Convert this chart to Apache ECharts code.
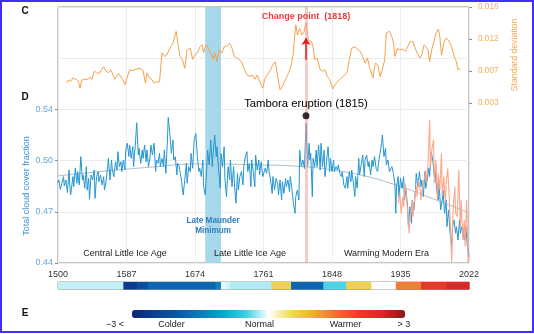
<!DOCTYPE html>
<html><head><meta charset="utf-8">
<script src="https://cdn.jsdelivr.net/npm/echarts@6/dist/echarts.min.js"></script>
<style>html,body{margin:0;padding:0;background:#fff}#c{width:534px;height:334px}</style>
</head><body><div id="c"></div>
<script>
const FONT = '"Liberation Sans", Arial, sans-serif';
// axis ticks
const xTickYears = [1500, 1587, 1674, 1761, 1848, 1935, 2022];
const cloudTicks = [0.44, 0.472, 0.504, 0.536];
const sdTicks = [0.003, 0.0073333, 0.0116667, 0.016];

// D: total cloud cover fraction (reconstruction)
const cloudYears = [1500,1501,1503,1505,1507,1508,1510,1512,1514,1515,1516,1519,1520,1522,1524,1525,1527,1529,1531,1532,1534,1536,1537,1539,1540,1542,1544,1546,1547,1549,1551,1552,1554,1556,1558,1559,1561,1563,1564,1566,1568,1569,1571,1573,1575,1576,1578,1580,1581,1583,1585,1586,1588,1590,1591,1593,1595,1596,1598,1600,1602,1603,1605,1607,1608,1610,1612,1613,1615,1617,1618,1620,1622,1624,1625,1627,1629,1630,1632,1634,1635,1637,1639,1640,1642,1644,1646,1647,1649,1651,1652,1654,1656,1657,1659,1661,1663,1664,1666,1668,1669,1671,1673,1675,1677,1679,1680,1682,1684,1685,1687,1689,1690,1692,1694,1696,1697,1699,1701,1702,1704,1706,1707,1709,1711,1712,1714,1716,1718,1719,1721,1723,1724,1726,1728,1729,1731,1733,1735,1736,1738,1740,1741,1743,1745,1746,1748,1750,1751,1753,1755,1756,1758,1760,1762,1763,1765,1767,1768,1770,1772,1773,1775,1777,1779,1780,1782,1784,1785,1787,1789,1790,1792,1794,1795,1797,1799,1801,1802,1804,1806,1807,1809,1811,1813,1815,1817,1819,1820,1821,1823,1824,1826,1828,1829,1831,1833,1834,1836,1838,1839,1841,1843,1845,1846,1848,1850,1851,1853,1855,1856,1858,1860,1861,1863,1865,1867,1868,1870,1872,1873,1875,1877,1878,1880,1882,1883,1885,1887,1889,1890,1892,1894,1895,1897,1899,1900,1902,1904,1906,1907,1909,1911,1912,1914,1916,1917,1919,1921,1922,1924,1926,1928,1929,1930,1932,1933,1935,1937,1939,1940,1942,1944,1945,1947,1949,1950,1952,1954,1955,1957,1959,1961,1962,1964,1966,1967,1969,1971,1972,1974,1976,1978,1979,1981,1983,1984,1986,1988,1989,1991,1993,1994,1996,1998,2000,2001,2003,2005,2006,2008,2010,2011,2013,2015,2016,2018,2020,2022];
const cloudValues = [0.4900,0.4919,0.4860,0.4867,0.4940,0.4881,0.4919,0.4840,0.4981,0.4888,0.4825,0.4940,0.4877,0.4992,0.4898,0.4971,0.4888,0.5065,0.4919,0.4950,0.4867,0.5002,0.4856,0.4929,0.4798,0.4950,0.4919,0.4981,0.4804,0.4940,0.4971,0.4908,0.4950,0.4888,0.4940,0.4856,0.4908,0.5002,0.5054,0.4919,0.5044,0.4981,0.4940,0.5033,0.4981,0.5096,0.5002,0.5033,0.4971,0.5044,0.4981,0.5106,0.5148,0.5065,0.5137,0.5054,0.5127,0.5002,0.5127,0.5277,0.5075,0.5117,0.5023,0.5106,0.5054,0.5137,0.5033,0.5106,0.5002,0.5065,0.5137,0.5075,0.5148,0.4971,0.5044,0.5023,0.5085,0.5002,0.5054,0.5002,0.5106,0.4960,0.5169,0.5310,0.5210,0.5085,0.5169,0.5044,0.5065,0.4950,0.5023,0.5002,0.4940,0.4908,0.4825,0.4919,0.5023,0.4898,0.5002,0.4971,0.5085,0.4992,0.5169,0.5210,0.5065,0.4971,0.4992,0.4940,0.5044,0.4877,0.4825,0.5002,0.5106,0.5013,0.5169,0.5002,0.5085,0.5200,0.5065,0.5127,0.4981,0.4867,0.5085,0.5002,0.5127,0.4929,0.4815,0.5002,0.4919,0.5044,0.4877,0.5002,0.4898,0.4773,0.4960,0.4856,0.4940,0.4971,0.4888,0.5002,0.5065,0.5096,0.4971,0.5023,0.4877,0.5044,0.4971,0.4877,0.5075,0.4981,0.5044,0.4950,0.5033,0.4940,0.4971,0.4992,0.4960,0.5044,0.4971,0.4919,0.4835,0.4940,0.4856,0.4929,0.4898,0.4825,0.4919,0.4794,0.4908,0.4835,0.4929,0.4877,0.4919,0.4846,0.4940,0.4867,0.4773,0.4710,0.4815,0.4856,0.4794,0.5106,0.5002,0.5044,0.4990,0.5273,0.5002,0.5148,0.5044,0.5085,0.4815,0.5054,0.5002,0.5106,0.5002,0.5137,0.4981,0.5148,0.5002,0.5106,0.4940,0.5033,0.5127,0.4971,0.5054,0.4971,0.5044,0.4971,0.5002,0.4981,0.5013,0.4960,0.4940,0.4971,0.4888,0.4867,0.4940,0.4867,0.4971,0.4908,0.4981,0.4908,0.4815,0.4940,0.4867,0.5054,0.4950,0.5013,0.5075,0.4940,0.5044,0.5075,0.5002,0.5033,0.4950,0.5044,0.5002,0.5065,0.4992,0.4971,0.5023,0.5085,0.5148,0.5200,0.5065,0.5117,0.5013,0.5044,0.4971,0.4981,0.5002,0.4960,0.4888,0.4710,0.4877,0.4940,0.4815,0.4929,0.4867,0.4940,0.4794,0.4856,0.4752,0.4627,0.4752,0.4648,0.4794,0.4731,0.4856,0.4960,0.4877,0.4971,0.4877,0.4919,0.4815,0.4971,0.4867,0.4919,0.4992,0.4940,0.5096,0.5044,0.4940,0.4971,0.4856,0.4794,0.4898,0.4731,0.4794,0.4856,0.4710,0.4794,0.4627,0.4731,0.4585,0.4502,0.4627,0.4669,0.4585,0.4627,0.4544,0.4669,0.4585,0.4627,0.4585,0.4544,0.4627,0.4502,0.4440];

// D: observed cloud cover (instrumental era)
const obsYears = [1932,1934,1936,1938,1939,1941,1943,1945,1946,1948,1950,1951,1953,1955,1956,1958,1960,1961,1963,1965,1967,1968,1970,1972,1973,1975,1977,1978,1980,1982,1983,1985,1987,1988,1990,1992,1993,1995,1997,2000,2002,2004,2005,2007,2009,2011,2012,2014,2016,2017,2019,2021,2022];
const obsValues = [0.4773,0.4835,0.4710,0.4815,0.4752,0.4898,0.4794,0.4648,0.4585,0.4731,0.4794,0.4690,0.4815,0.4877,0.4815,0.4919,0.4856,0.4794,0.4877,0.4919,0.4981,0.4898,0.5023,0.5294,0.5002,0.5117,0.5169,0.4898,0.5044,0.4794,0.4960,0.4856,0.5085,0.4815,0.4940,0.4773,0.4898,0.4990,0.4800,0.4405,0.4752,0.4877,0.4710,0.4690,0.4981,0.4627,0.4794,0.4544,0.4669,0.4502,0.4794,0.4405,0.4450];

// D: long-term trend
const trendYears = [1500,1561,1625,1673,1758,1812,1849,1890,1933,1975,2022];
const trendValues = [0.4944,0.4975,0.5002,0.5019,0.5013,0.5002,0.4981,0.4944,0.4881,0.4804,0.4714];

// C: running standard deviation
const sdYears = [1511,1513,1516,1519,1523,1526,1528,1530,1534,1538,1541,1543,1546,1549,1551,1553,1555,1558,1561,1564,1567,1570,1572,1574,1577,1579,1582,1585,1587,1591,1594,1596,1600,1604,1608,1611,1613,1616,1619,1622,1625,1629,1632,1635,1638,1640,1643,1646,1650,1653,1655,1658,1661,1664,1668,1671,1674,1677,1680,1683,1685,1688,1691,1693,1697,1699,1702,1705,1708,1711,1714,1718,1721,1724,1727,1730,1733,1736,1740,1744,1747,1750,1753,1757,1760,1763,1766,1769,1773,1776,1779,1782,1785,1789,1793,1796,1799,1801,1802,1804,1807,1810,1812,1815,1818,1822,1824,1826,1829,1833,1836,1839,1842,1845,1849,1852,1855,1858,1862,1867,1870,1873,1877,1881,1884,1887,1890,1893,1896,1900,1903,1906,1909,1912,1915,1917,1921,1924,1926,1928,1931,1934,1938,1941,1944,1947,1951,1953,1956,1960,1962,1965,1967,1970,1972,1975,1978,1980,1983,1985,1987,1990,1993,1996,1999,2002,2004,2006,2008,2011];
const sdValues = [0.0057,0.0061,0.0059,0.0064,0.0062,0.0059,0.0050,0.0061,0.0062,0.0062,0.0065,0.0062,0.0073,0.0071,0.0073,0.0070,0.0075,0.0079,0.0073,0.0071,0.0075,0.0068,0.0062,0.0064,0.0070,0.0068,0.0062,0.0055,0.0057,0.0075,0.0074,0.0076,0.0076,0.0077,0.0074,0.0057,0.0071,0.0064,0.0062,0.0057,0.0058,0.0059,0.0098,0.0093,0.0095,0.0093,0.0106,0.0111,0.0127,0.0106,0.0093,0.0089,0.0077,0.0102,0.0104,0.0089,0.0095,0.0098,0.0106,0.0109,0.0098,0.0109,0.0104,0.0100,0.0089,0.0098,0.0086,0.0102,0.0098,0.0106,0.0107,0.0111,0.0104,0.0093,0.0091,0.0089,0.0086,0.0077,0.0068,0.0066,0.0068,0.0062,0.0068,0.0057,0.0050,0.0064,0.0068,0.0073,0.0082,0.0086,0.0066,0.0048,0.0052,0.0062,0.0071,0.0080,0.0098,0.0125,0.0136,0.0122,0.0131,0.0122,0.0125,0.0138,0.0115,0.0113,0.0106,0.0089,0.0091,0.0075,0.0073,0.0075,0.0066,0.0062,0.0049,0.0055,0.0059,0.0062,0.0066,0.0071,0.0089,0.0104,0.0106,0.0102,0.0100,0.0093,0.0084,0.0091,0.0077,0.0064,0.0084,0.0082,0.0066,0.0075,0.0089,0.0125,0.0127,0.0120,0.0111,0.0093,0.0104,0.0102,0.0103,0.0100,0.0106,0.0113,0.0113,0.0106,0.0098,0.0091,0.0095,0.0109,0.0111,0.0102,0.0086,0.0104,0.0115,0.0125,0.0130,0.0120,0.0095,0.0111,0.0118,0.0115,0.0109,0.0098,0.0091,0.0086,0.0075,0.0077];

// annotations
const tamboraYear = 1815;
const tamboraDotValue = 0.532;
const changePointYear = 1818;
const changeArrowFrom = 0.00884;
const changeArrowTo = 0.0118;
const lmmStart = 1687, lmmEnd = 1707;

// E: temperature anomaly timeline
const eraBarStart = [1500,1583,1600,1614,1700,1707,1712,1718,1771,1796,1837,1866,1898,1929,1961,1993];
const eraBarEnd = [1583,1600,1614,1700,1707,1712,1718,1771,1796,1837,1866,1898,1929,1961,1993,2022];
const eraBarAnomaly = [-0.15,-2.6,-2.2,-1.8,-1.4,-0.05,-0.1,-0.2,0.6,-1.8,-0.45,0.6,0.0,1.35,2.1,2.5];

const palette = ['#0b2878','#0c3e94','#0a58a8','#0a7cbe','#08a6d0','#3ccde3','#ffffff','#eedc50','#f2aa36','#f46a30','#ef3a28','#d82828','#8a1818'];

const zip = (a, b) => a.map((v, i) => [v, b[i]]);
const chart = echarts.init(document.getElementById('c'), null, {renderer: 'canvas'});

function txt(x, y, text, fill, font, rot, align) {
  return {type: 'text', x: x, y: y, rotation: rot || 0, z: 50,
    style: {text: text, fill: fill, font: font, align: align || 'center', verticalAlign: 'middle'}};
}

const option = {
  animation: false,
  textStyle: {fontFamily: FONT},
  grid: [
    {left: 58, top: 7, width: 411, height: 256, show: true, borderColor: '#8c8c8c', borderWidth: 1, backgroundColor: 'transparent'},
    {left: 58, top: 282, width: 411, height: 7.5, show: true, borderColor: '#9a9a9a', borderWidth: 1, backgroundColor: 'transparent'}
  ],
  xAxis: [
    {type: 'value', gridIndex: 0, min: 1500, max: 2022,
      axisLine: {show: false},
      axisTick: {show: false, customValues: xTickYears},
      axisLabel: {customValues: xTickYears, color: '#333', fontSize: 9, margin: 7, fontFamily: FONT,
        formatter: v => String(Math.round(v))},
      splitLine: {show: true, lineStyle: {color: '#ececec', width: 1}}},
    {type: 'value', gridIndex: 1, min: 1500, max: 2022, show: false}
  ],
  yAxis: [
    {type: 'value', gridIndex: 0, min: 0.44, max: 0.60, position: 'left',
      axisLine: {show: false},
      axisTick: {show: true, length: 3, customValues: cloudTicks, lineStyle: {color: '#8c8c8c'}},
      axisLabel: {customValues: cloudTicks, color: '#6aa7d6', fontSize: 9, margin: 5, fontFamily: FONT,
        formatter: v => v.toFixed(2)},
      splitLine: {show: false}},
    {type: 'value', gridIndex: 0, min: -0.0186667, max: 0.016, position: 'right',
      axisLine: {show: false},
      axisTick: {show: true, length: 3, customValues: sdTicks, lineStyle: {color: '#8c8c8c'}},
      axisLabel: {customValues: sdTicks, color: '#f7ac5a', fontSize: 8.2, margin: 9, fontFamily: FONT,
        formatter: v => v.toFixed(3)},
      splitLine: {show: false}},
    {type: 'value', gridIndex: 0, min: 0, max: 5, interval: 1, position: 'left',
      axisLine: {show: false}, axisTick: {show: false}, axisLabel: {show: false},
      splitLine: {show: true, lineStyle: {color: '#ececec', width: 1}}},
    {type: 'value', gridIndex: 1, min: 0, max: 1, show: false}
  ],
  visualMap: {
    type: 'continuous', min: -3, max: 3, orient: 'horizontal', left: 132, top: 310,
    itemWidth: 8, itemHeight: 273, calculable: false, padding: 0, hoverLink: false,
    seriesIndex: 5, dimension: 2, inRange: {color: palette}, text: null, showLabel: false
  },
  series: [
    {name: 'trend', type: 'line', xAxisIndex: 0, yAxisIndex: 0, z: 1, smooth: true,
      data: zip(trendYears, trendValues), showSymbol: false, silent: true,
      lineStyle: {color: '#a9bfcc', width: 1},
      markArea: {silent: true, itemStyle: {color: '#a7d7ea'},
        label: {show: true, position: ['50%', 219], align: 'center', verticalAlign: 'middle',
          formatter: 'Late Maunder\nMinimum', color: '#2a7fc0', fontSize: 8.2, fontWeight: 'bold',
          lineHeight: 10, fontFamily: FONT},
        data: [[{xAxis: lmmStart}, {xAxis: lmmEnd}]]},
      markLine: {silent: true, symbol: 'none', label: {show: false},
        lineStyle: {color: 'rgba(245,150,150,0.5)', width: 3, type: 'solid'},
        data: [{xAxis: tamboraYear}]}},
    {name: 'cloud', type: 'line', xAxisIndex: 0, yAxisIndex: 0, z: 3,
      data: zip(cloudYears, cloudValues), showSymbol: false, silent: true,
      lineStyle: {color: '#2596cf', width: 1}},
    {name: 'observed', type: 'line', xAxisIndex: 0, yAxisIndex: 0, z: 4,
      data: zip(obsYears, obsValues), showSymbol: false, silent: true,
      lineStyle: {color: '#fca286', width: 1.1, opacity: 0.95}},
    {name: 'sd', type: 'line', xAxisIndex: 0, yAxisIndex: 1, z: 3,
      data: zip(sdYears, sdValues), showSymbol: false, silent: true,
      lineStyle: {color: '#f6a04a', width: 1},
      markLine: {silent: true, symbol: ['none', 'arrow'], symbolSize: 7,
        lineStyle: {color: '#e8191e', width: 1.5, type: 'solid'},
        label: {show: true, position: 'end', distance: 17, formatter: 'Change point  (' + changePointYear + ')',
          color: '#f0373c', fontWeight: 'bold', fontSize: 9, fontFamily: FONT},
        data: [[{coord: [tamboraYear, changeArrowFrom]}, {coord: [tamboraYear, changeArrowTo]}]]}},
    {name: 'tambora', type: 'scatter', xAxisIndex: 0, yAxisIndex: 0, z: 6, silent: true,
      data: [[tamboraYear, tamboraDotValue]], symbolSize: 7, itemStyle: {color: '#000'},
      label: {show: true, position: 'top', distance: 3, formatter: 'Tambora eruption (' + tamboraYear + ')',
        color: '#000', fontSize: 11.3, fontFamily: FONT, textBorderWidth: 0, opacity: 1}},
    {name: 'anomaly', type: 'custom', coordinateSystem: 'cartesian2d', xAxisIndex: 1, yAxisIndex: 3, silent: true,
      data: eraBarStart.map((s, i) => [s, eraBarEnd[i], eraBarAnomaly[i]]),
      encode: {x: [0, 1]},
      renderItem: function (params, api) {
        const a = api.coord([api.value(0), 0]);
        const b = api.coord([api.value(1), 1]);
        return {type: 'rect', shape: {x: a[0], y: b[1], width: b[0] - a[0] + 0.6, height: a[1] - b[1]},
          style: {fill: api.visual('color')}};
      }}
  ],
  graphic: {elements: [
    txt(25, 11.5, 'C', '#111', 'bold 10px ' + FONT),
    txt(25, 97.5, 'D', '#111', 'bold 10px ' + FONT),
    txt(25, 313.5, 'E', '#111', 'bold 10px ' + FONT),
    txt(27, 186, 'Total cloud cover fraction', '#3b93d1', '9px ' + FONT, Math.PI / 2),
    txt(515, 55, 'Standard deviation', '#f7a94f', '8.7px ' + FONT, Math.PI / 2),
    txt(125, 254, 'Central Little Ice Age', '#222', '9px ' + FONT),
    txt(250, 254, 'Late Little Ice Age', '#222', '9px ' + FONT),
    txt(386.5, 254, 'Warming Modern Era', '#222', '9px ' + FONT),
    txt(124, 325, '\u22123 <', '#222', '9px ' + FONT, 0, 'right'),
    txt(171.5, 325, 'Colder', '#222', '9px ' + FONT),
    txt(259.5, 325, 'Normal', '#222', '9px ' + FONT),
    txt(345.5, 325, 'Warmer', '#222', '9px ' + FONT),
    txt(397.5, 325, '> 3', '#222', '9px ' + FONT, 0, 'left'),
    {type: 'rect', z: 60, shape: {x: 1, y: 1, width: 532, height: 331},
      style: {fill: 'none', stroke: '#4030ff', lineWidth: 2}}
  ]}
};
chart.setOption(option);
</script></body></html>
